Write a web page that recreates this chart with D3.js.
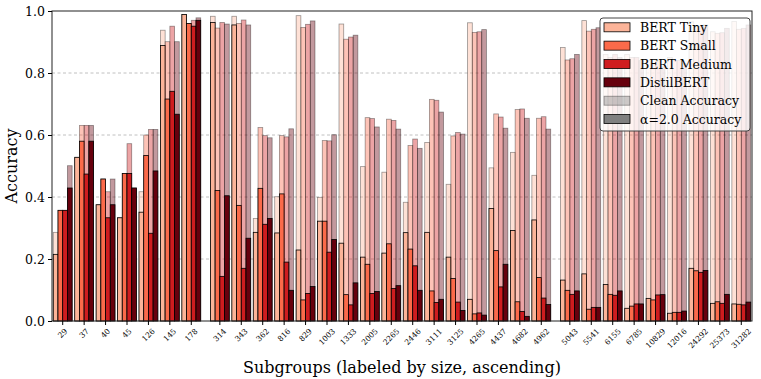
<!DOCTYPE html>
<html><head><meta charset="utf-8">
<script src="https://cdn.jsdelivr.net/npm/d3@7"></script>
<style>body{margin:0;background:#fff} svg{display:block}</style>
</head><body><svg id="c" width="761" height="379"></svg>
<script>
const subgroups = ["29","37","40","45","126","145","178","314","343","362","816","829","1003","1333","2005","2265","2446","3111","3125","4265","4437","4682","4962","5043","5541","6155","6785","10829","12016","24292","25373","31282"];
const clusterSizes = [7, 16, 9];
const models = ["BERT Tiny","BERT Small","BERT Medium","DistilBERT"];
const modelColors = ["#fcb499","#fb6a4a","#cf1c1f","#67000d"];

const cleanTiny   = [0.286,0.528,0.375,0.333,0.417,0.938,0.989,0.983,0.983,0.331,0.401,0.985,0.399,0.958,0.498,0.480,0.383,0.576,0.441,0.962,0.494,0.544,0.470,0.882,0.969,0.86,0.86,0.84,0.85,0.965,0.933,0.966];
const alphaTiny   = [0.215,0.528,0.375,0.333,0.351,0.889,0.989,0.963,0.955,0.286,0.284,0.229,0.322,0.251,0.206,0.219,0.285,0.286,0.206,0.070,0.363,0.292,0.326,0.132,0.152,0.118,0.041,0.073,0.025,0.170,0.057,0.055];
const cleanSmall  = [0.357,0.631,0.458,0.476,0.600,0.901,0.960,0.945,0.960,0.624,0.598,0.947,0.582,0.909,0.656,0.651,0.566,0.715,0.597,0.931,0.668,0.682,0.654,0.842,0.935,0.85,0.85,0.83,0.84,0.95,0.928,0.941];
const alphaSmall  = [0.357,0.580,0.458,0.476,0.534,0.716,0.960,0.421,0.373,0.428,0.410,0.068,0.322,0.085,0.183,0.249,0.232,0.097,0.137,0.023,0.227,0.062,0.140,0.099,0.038,0.086,0.048,0.068,0.028,0.162,0.062,0.054];
const cleanMedium = [0.357,0.631,0.417,0.572,0.618,0.951,0.970,0.963,0.971,0.598,0.594,0.957,0.581,0.916,0.653,0.647,0.587,0.712,0.608,0.933,0.658,0.684,0.659,0.846,0.941,0.86,0.85,0.84,0.84,0.95,0.930,0.944];
const alphaMedium = [0.357,0.474,0.333,0.476,0.283,0.741,0.951,0.144,0.170,0.312,0.190,0.089,0.222,0.052,0.089,0.105,0.178,0.060,0.061,0.026,0.110,0.031,0.074,0.086,0.044,0.083,0.055,0.084,0.028,0.157,0.057,0.052];
const cleanDistil = [0.501,0.631,0.458,0.429,0.618,0.901,0.978,0.958,0.955,0.591,0.620,0.968,0.601,0.922,0.626,0.619,0.557,0.674,0.603,0.940,0.622,0.654,0.619,0.860,0.946,0.85,0.84,0.82,0.83,0.955,0.944,0.955];
const alphaDistil = [0.429,0.580,0.375,0.429,0.484,0.667,0.970,0.404,0.267,0.331,0.099,0.111,0.263,0.123,0.095,0.114,0.099,0.070,0.034,0.019,0.183,0.015,0.053,0.097,0.044,0.097,0.055,0.085,0.032,0.163,0.086,0.061];

const yTicks = [0, 0.2, 0.4, 0.6, 0.8, 1.0];
const xLabel = "Subgroups (labeled by size, ascending)";
const yLabel = "Accuracy";
const legendLabels = ["BERT Tiny","BERT Small","BERT Medium","DistilBERT","Clean Accuracy","\u03b1=2.0 Accuracy"];

const cleanData = [cleanTiny, cleanSmall, cleanMedium, cleanDistil];
const alphaData = [alphaTiny, alphaSmall, alphaMedium, alphaDistil];

// layout
const L = 52, R = 752, T = 11, B = 321;
const GAP = 1/3, BW = 0.22;
const FONT = "'DejaVu Serif', serif";

// group positions (index + cluster gap)
const pos = [];
clusterSizes.forEach((n, c) => { for (let k = 0; k < n; k++) pos.push(pos.length + c * GAP); });
const last = pos[pos.length - 1];

const x = d3.scaleLinear().domain([-0.5, last + 0.5]).range([L, R]);
const y = d3.scaleLinear().domain([0, 1]).range([B, T]);

const svg = d3.select("#c");
svg.append("rect").attr("width", 761).attr("height", 379).attr("fill", "#fff");

// grid
svg.append("g").selectAll("line").data(yTicks.filter(t => t > 0 && t < 1)).join("line")
  .attr("x1", L).attr("x2", R).attr("y1", d => y(d)).attr("y2", d => y(d))
  .attr("stroke", "#b0b0b0").attr("stroke-width", 0.8).attr("stroke-dasharray", "3,2.5");

// bars
const bw = x(BW) - x(0);
const gBars = svg.append("g");
subgroups.forEach((sg, i) => {
  models.forEach((m, k) => {
    const cx = x(pos[i] + (k - 1.5) * BW);
    const vc = cleanData[k][i], va = alphaData[k][i];
    gBars.append("rect")
      .attr("x", cx - bw / 2).attr("width", bw)
      .attr("y", y(vc)).attr("height", y(0) - y(vc))
      .attr("fill", modelColors[k]).attr("fill-opacity", 0.4)
      .attr("stroke", "#000").attr("stroke-opacity", 0.4).attr("stroke-width", 0.8);
    gBars.append("rect")
      .attr("x", cx - bw / 2).attr("width", bw)
      .attr("y", y(va)).attr("height", y(0) - y(va))
      .attr("fill", modelColors[k])
      .attr("stroke", "#000").attr("stroke-width", 0.8);
  });
});

// spines
svg.append("rect").attr("x", L).attr("y", T).attr("width", R - L).attr("height", B - T)
  .attr("fill", "none").attr("stroke", "#222").attr("stroke-width", 1);

// y axis
const yAxis = d3.axisLeft(y).tickValues(yTicks).tickFormat(d3.format(".1f")).tickSize(4).tickPadding(3);
const gy = svg.append("g").attr("transform", `translate(${L},0)`).call(yAxis);
gy.select(".domain").remove();
gy.selectAll("text").attr("font-family", FONT).attr("font-size", 12.5).attr("fill", "#000");
gy.selectAll("line").attr("stroke", "#000");

// x axis ticks
const xTickScale = d3.scaleOrdinal().domain(subgroups).range(pos.map(p => x(p)));
const gx = svg.append("g");
gx.selectAll("line").data(subgroups).join("line")
  .attr("x1", d => xTickScale(d)).attr("x2", d => xTickScale(d))
  .attr("y1", B).attr("y2", B + 4).attr("stroke", "#000");
const xfs = 7.6;
gx.selectAll("text").data(subgroups).join("text")
  .attr("font-family", FONT).attr("font-size", xfs).attr("fill", "#000")
  .attr("text-anchor", "middle").attr("dominant-baseline", "central")
  .text(d => d)
  .each(function(d) {
    const w = this.getComputedTextLength();
    const cy = B + 6 + (w + xfs * 1.1) / (2 * Math.SQRT2);
    const cx = xTickScale(d);
    d3.select(this).attr("x", cx).attr("y", cy).attr("transform", `rotate(-45,${cx},${cy})`);
  });

// axis labels
svg.append("text").attr("x", (L + R) / 2).attr("y", 373).attr("text-anchor", "middle")
  .attr("font-family", FONT).attr("font-size", 16).attr("fill", "#000").text(xLabel);
svg.append("text").attr("transform", `translate(17,${(T + B) / 2}) rotate(-90)`).attr("text-anchor", "middle")
  .attr("font-family", FONT).attr("font-size", 16).attr("fill", "#000").text(yLabel);

// legend
const lg = svg.append("g");
lg.append("rect").attr("x", 600).attr("y", 18).attr("width", 150).attr("height", 113).attr("rx", 3)
  .attr("fill", "#fff").attr("fill-opacity", 0.8).attr("stroke", "#444").attr("stroke-width", 1);
const legFill = [...modelColors, "#808080", "#808080"];
const legOp = [1, 1, 1, 1, 0.4, 1];
legendLabels.forEach((lab, j) => {
  const cy = 27.3 + j * 18.35;
  lg.append("rect").attr("x", 604).attr("y", cy - 4.5).attr("width", 26).attr("height", 9)
    .attr("fill", legFill[j]).attr("fill-opacity", legOp[j])
    .attr("stroke", "#000").attr("stroke-opacity", legOp[j]).attr("stroke-width", 0.8);
  lg.append("text").attr("x", 640).attr("y", cy).attr("dominant-baseline", "central")
    .attr("font-family", FONT).attr("font-size", 12.5).attr("fill", "#000").text(lab);
});
</script></body></html>
